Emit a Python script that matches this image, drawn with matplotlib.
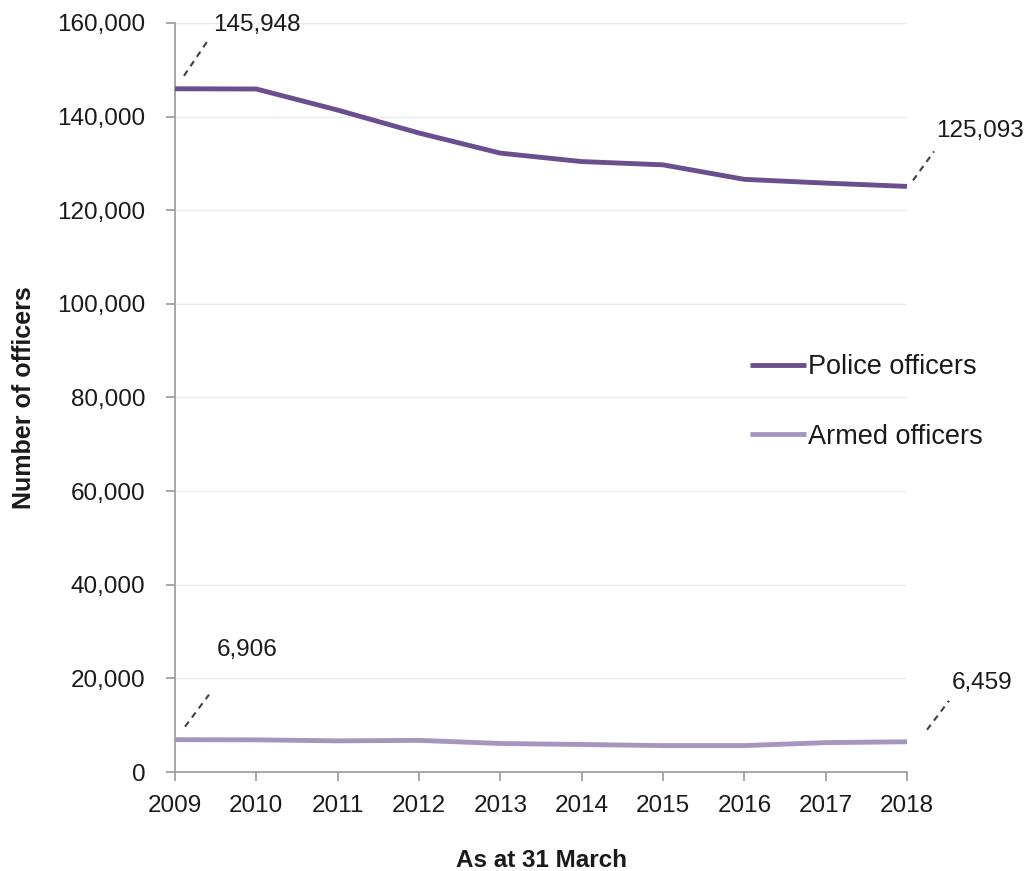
import matplotlib
matplotlib.use("Agg")
import matplotlib.pyplot as plt
import matplotlib.transforms as mt
from matplotlib.ticker import FuncFormatter

years = [2009, 2010, 2011, 2012, 2013, 2014, 2015, 2016, 2017, 2018]
police_officers = [145948, 145900, 141400, 136500, 132200, 130400, 129700, 126600, 125800, 125093]
armed_officers = [6906, 6868, 6653, 6756, 6091, 5875, 5639, 5639, 6278, 6459]
y_ticks = [0, 20000, 40000, 60000, 80000, 100000, 120000, 140000, 160000]

police_color = "#6B4E8E"
armed_color = "#A696BE"
text_color = "#1a1a1a"

plt.rcParams['font.family'] = ['Liberation Sans', 'DejaVu Sans']

fig = plt.figure(figsize=(10.29, 8.71), dpi=100)
ax = fig.add_axes([175/1029, 1 - 772/871, (907-175)/1029, (772-23)/871])

ax.plot(years, police_officers, color=police_color, lw=3.5, solid_capstyle='butt',
        label="Police officers", zorder=3)
ax.plot(years, armed_officers, color=armed_color, lw=3.5, solid_capstyle='butt',
        label="Armed officers", zorder=3)

ax.set_xlim(years[0], years[-1])
ax.set_ylim(0, 160000)
ax.set_xticks(years)
ax.set_yticks(y_ticks)
ax.yaxis.set_major_formatter(FuncFormatter(lambda v, p: f"{int(v):,}"))
ax.grid(axis='y', color='#EBEBEB', lw=1.0, zorder=0)
ax.set_axisbelow(True)

for s in ['top', 'right']:
    ax.spines[s].set_visible(False)
for s in ['left', 'bottom']:
    ax.spines[s].set_color('#A0A0A0')
    ax.spines[s].set_linewidth(1.3)
ax.tick_params(axis='both', direction='out', length=6.5, width=1.3, color='#A0A0A0',
               labelsize=17.5, labelcolor=text_color)
ax.tick_params(axis='y', pad=15)
ax.tick_params(axis='x', pad=10)

ax.set_ylabel("Number of officers", fontsize=18, fontweight='bold', color=text_color,
              labelpad=15)
ax.set_xlabel("As at 31 March", fontsize=17.5, fontweight='bold', color=text_color, labelpad=23)


def ann(x, y, txt, d0, d1, toff):
    ax.annotate(txt, xy=(x, y), xycoords='data', xytext=toff, textcoords='offset pixels',
                fontsize=17.5, color=text_color, ha='left', va='center', annotation_clip=False)
    t0 = ax.transData + mt.Affine2D().translate(d0[0], d0[1])
    t1 = ax.transData + mt.Affine2D().translate(d1[0], d1[1])
    p0 = t0.transform((x, y))
    p1 = t1.transform((x, y))
    line = plt.Line2D([p0[0], p1[0]], [p0[1], p1[1]], transform=None, color='#404040',
                      lw=1.5, linestyle=(0, (3, 2.5)))
    fig.lines.append(line)


ann(years[0], police_officers[0], f"{police_officers[0]:,}", (9, 13), (34, 50), (38, 64))
ann(years[-1], police_officers[-1], f"{police_officers[-1]:,}", (6, 6), (27, 35), (29, 55))
ann(years[0], armed_officers[0], f"{armed_officers[0]:,}", (10, 13), (34, 45), (42, 90))
ann(years[-1], armed_officers[-1], f"{armed_officers[-1]:,}", (20, 12), (42, 41), (45, 59))

leg = fig.legend(loc='center left', bbox_to_anchor=(750/1029, 1 - 402/871), frameon=False,
                 fontsize=19.5, handlelength=2.05, handletextpad=0.1, labelspacing=1.6,
                 borderpad=0, borderaxespad=0)
for t in leg.get_texts():
    t.set_color(text_color)

fig.savefig("out.png", dpi=100)
